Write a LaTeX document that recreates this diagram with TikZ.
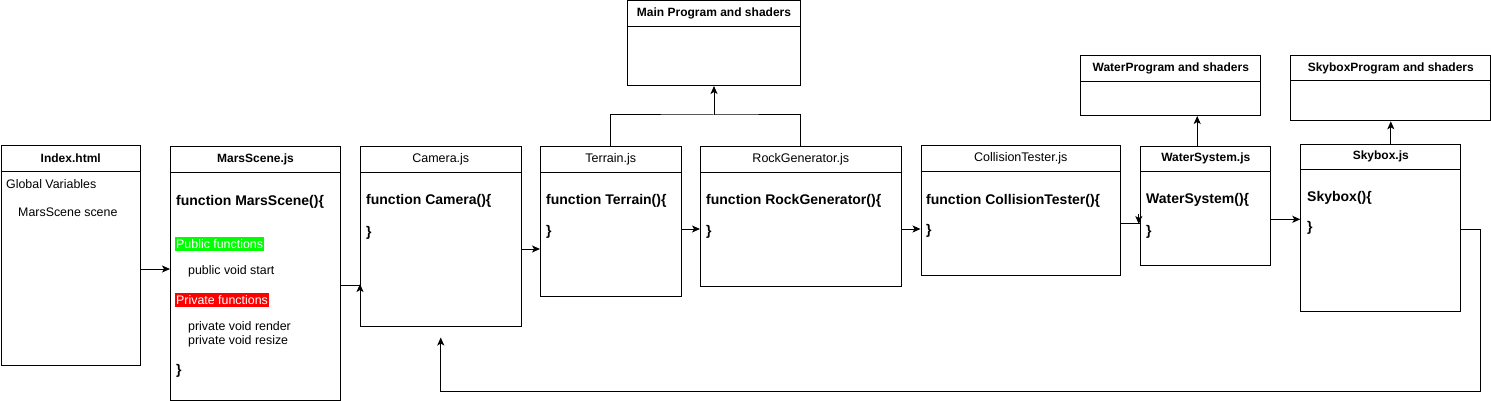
\documentclass[tikz,border=0pt]{standalone}
\usepackage{fontspec}
\setmainfont{Liberation Sans}
\usetikzlibrary{arrows.meta,calc}
\definecolor{pubgreen}{HTML}{00FF00}
\definecolor{privred}{HTML}{FF0000}
\tikzset{
  box/.style={draw, line width=1pt, anchor=north west, inner sep=0pt, minimum width=#1},
  box/.default=100pt,
  hdr/.style={inner sep=0pt, font=\fontsize{12}{14}\selectfont\bfseries},
  hdrl/.style={inner sep=0pt, font=\fontsize{12.5}{14}\selectfont},
  code/.style={anchor=west, inner sep=0pt, font=\fontsize{14}{16}\selectfont\bfseries},
  txt/.style={anchor=west, inner sep=0pt, font=\fontsize{12.4}{14}\selectfont},
  tag/.style={anchor=west, inner xsep=1pt, inner ysep=2pt, text=white, font=\fontsize{12.4}{14}\selectfont},
  ln/.style={line width=1pt},
  arr/.style={line width=1pt, -{Stealth[length=8pt,width=7pt,inset=2pt]}},
}
\newcommand{\hdrline}[1]{\draw[ln] ([yshift=-26pt]#1.north west) -- ([yshift=-26pt]#1.north east);}
\begin{document}
\begin{tikzpicture}[x=1pt,y=-1pt]
\useasboundingbox (0,0) rectangle (1491,401);
% boxes
\node[box=139.5pt, minimum height=220pt] (index) at (0.5,145) {};
\node[box=170pt, minimum height=254pt] (mars) at (170,146) {};
\node[box=160.5pt, minimum height=180pt] (camera) at (360,146) {};
\node[box=140.5pt, minimum height=150pt] (terrain) at (540,146) {};
\node[box=200.5pt, minimum height=140pt] (rock) at (700,146) {};
\node[box=199.5pt, minimum height=130pt] (coll) at (920.5,145) {};
\node[box=130pt, minimum height=119.3pt] (water) at (1140.3,145.7) {};
\node[box=160pt, minimum height=167.3pt] (skybox) at (1300.3,143.7) {};
\node[box=173.6pt, minimum height=84.5pt] (main) at (626.7,0.5) {};
\node[box=180pt, minimum height=59.7pt] (waterprog) at (1080.3,55.3) {};
\node[box=200pt, minimum height=65.3pt] (skyprog) at (1290.3,55) {};
\hdrline{index}\hdrline{mars}\hdrline{camera}\hdrline{terrain}\hdrline{rock}\hdrline{coll}
\hdrline{water}\hdrline{skybox}\hdrline{main}\hdrline{waterprog}\hdrline{skyprog}
% headers
\node[hdr] (indexh) at ([yshift=-13pt]index.north) {Index.html};
\node[hdr] (marsh) at ([yshift=-13pt]mars.north) {MarsScene.js};
\node[hdrl] (camerah) at ([yshift=-13pt]camera.north) {Camera.js};
\node[hdrl] (terrainh) at ([yshift=-13pt]terrain.north) {Terrain.js};
\node[hdrl] (rockh) at ([yshift=-13pt]rock.north) {RockGenerator.js};
\node[hdrl] (collh) at ([yshift=-13pt]coll.north) {CollisionTester.js};
\node[hdr] (waterh) at ([yshift=-13pt]water.north) {WaterSystem.js};
\node[hdr] (skyboxh) at ([yshift=-13pt]skybox.north) {Skybox.js};
\node[hdr] (mainh) at ([yshift=-13pt]main.north) {Main Program and shaders};
\node[hdr] (waterprogh) at ([yshift=-13pt]waterprog.north) {WaterProgram and shaders};
\node[hdr] (skyprogh) at ([yshift=-13pt]skyprog.north) {SkyboxProgram and shaders};
% Index body
\node[txt] (gv) at (6,184) {Global Variables};
\node[txt] (msv) at (18,212) {MarsScene scene};
% MarsScene body
\node[code] (msf) at (176,201.7) {function MarsScene()\{};
\node[tag, fill=pubgreen] (pub) at (175,244) {Public functions};
\node[txt] (pubs) at (188,271) {public void start};
\node[tag, fill=privred] (priv) at (175,300) {Private functions};
\node[txt] (prr) at (188,327) {private void render};
\node[txt] (prz) at (188,341) {private void resize};
\node[code] (msc) at (176,371) {\}};
% other bodies
\node[code] (cf) at (366,201) {function Camera()\{};
\node[code] (cc) at (366,232.5) {\}};
\node[code] (tf) at (546,201) {function Terrain()\{};
\node[code] (tc) at (546,232) {\}};
\node[code] (rf) at (706,201) {function RockGenerator()\{};
\node[code] (rc) at (706,232) {\}};
\node[code] (kf) at (926,201) {function CollisionTester()\{};
\node[code] (kc) at (926,230.5) {\}};
\node[code] (wf) at (1146,200) {WaterSystem()\{};
\node[code] (wc) at (1146,231.5) {\}};
\node[code] (sf) at (1307,198) {Skybox()\{};
\node[code] (sc) at (1307,228) {\}};
% connectors
\draw[arr] (index.east |- 0,269) -- (mars.west |- 0,269);
\draw[ln] (mars.east |- 0,285) -- (camera.west |- 0,285);
\draw[arr] (camera.west |- 0,294) -- (camera.west |- 0,284);
\draw[arr] (camera.east |- 0,249) -- (terrain.west |- 0,249);
\draw[arr] (terrain.east |- 0,229) -- (rock.west |- 0,229);
\draw[arr] (rock.east |- 0,229) -- (coll.west |- 0,229);
\draw[ln] (coll.east |- 0,223) -- (water.west |- 0,223);
\draw[arr] ([xshift=-1.5pt]water.west |- 0,214) -- ([xshift=-1.5pt]water.west |- 0,224);
\draw[arr] (water.east |- 0,219.3) -- (skybox.west |- 0,219.3);
\coordinate (bus) at (main.south |- 0,115);
\draw[ln] (terrain.north) |- (bus) -| (rock.north);
\draw[arr] (bus) -- (main.south);
\draw[arr] ([xshift=-8.6pt]water.north) -- ([xshift=-8.6pt]water.north |- waterprog.south);
\draw[arr] (skybox.north -| skyprog.south) -- (skyprog.south);
\coordinate (loopA) at (1480.3,229.3);
\coordinate (loopB) at (1480.3,391);
\draw[arr] (skybox.east |- loopA) -- (loopA) -- (loopB) -- (camera.south |- loopB) -- ([yshift=-10.5pt]camera.south);
\end{tikzpicture}
\end{document}
